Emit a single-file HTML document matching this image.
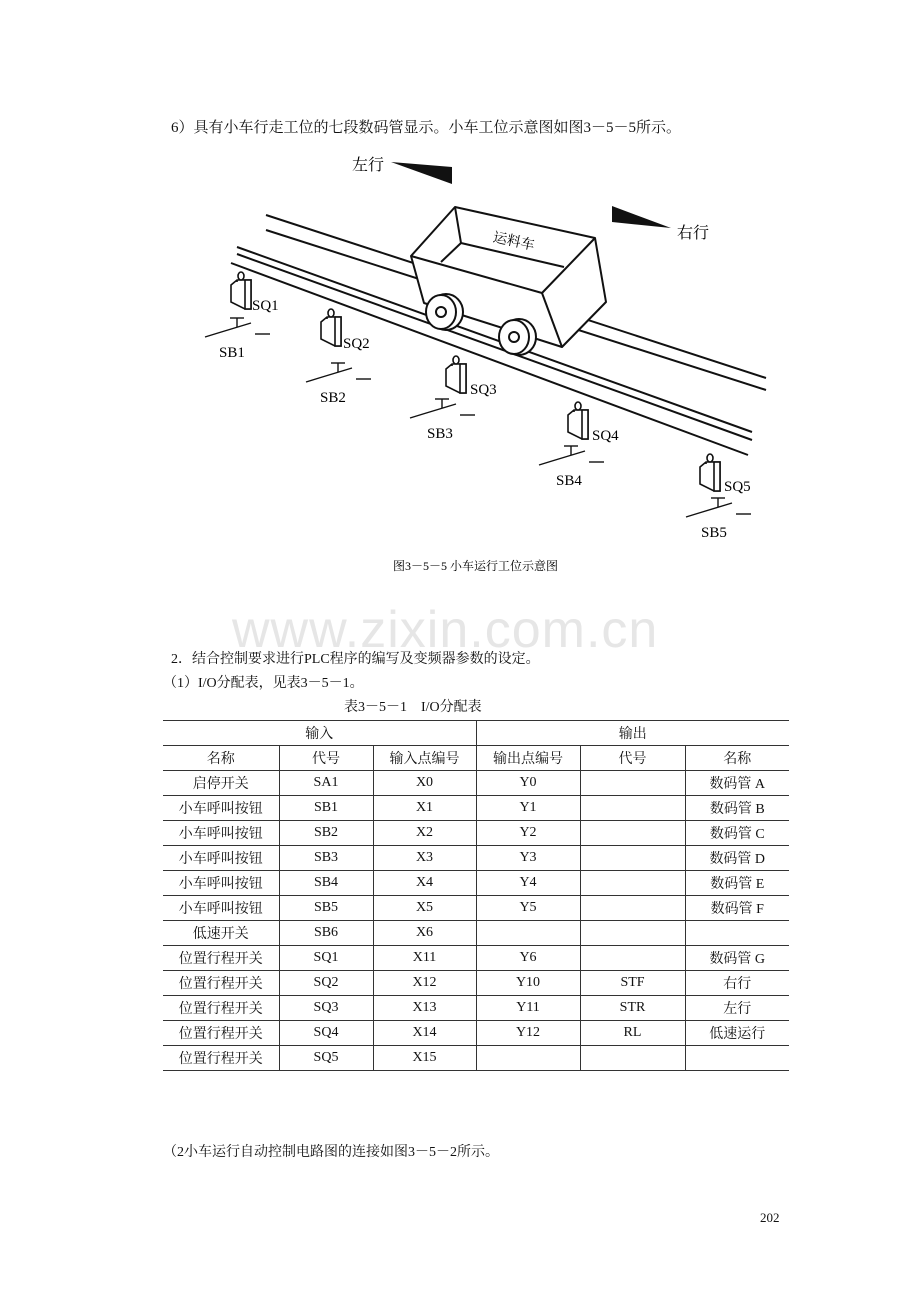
<!DOCTYPE html>
<html><head><meta charset="utf-8"><style>
body{margin:0;background:#fff;}
#p{position:relative;width:920px;height:1302px;overflow:hidden;font-family:"Liberation Serif","Noto Serif CJK SC",serif;color:#111;}
.t{position:absolute;white-space:nowrap;font-size:15px;line-height:18px;}
table{position:absolute;left:163px;top:720px;border-collapse:collapse;font-size:14px;}
td{height:24px;padding:0;text-align:center;border-top:1px solid #333;border-bottom:1px solid #333;border-left:1px solid #333;}
td:first-child{border-left:none;}
</style></head><body><div id="p">
<div class="t" style="left:171px;top:119px;">6）具有小车行走工位的七段数码管显示。小车工位示意图如图3－5－5所示。</div>
<svg width="920" height="600" style="position:absolute;left:0;top:0" font-family="Liberation Serif, Noto Serif CJK SC, serif">
<g stroke="#111" stroke-width="2" fill="none">
<line x1="266" y1="215" x2="766" y2="378"/>
<line x1="266" y1="230" x2="766" y2="390"/>
<line x1="237" y1="247" x2="752" y2="432"/>
<line x1="237" y1="254" x2="752" y2="440"/>
<line x1="231" y1="263" x2="748" y2="455"/>
</g>
<g stroke="#111" stroke-width="2" fill="#fff" stroke-linejoin="round">
<polygon points="411,256 455,207 595,238 606,302 562,347 424,303"/>
<polyline points="411,256 542,293 595,238" fill="none"/>
<line x1="542" y1="293" x2="562" y2="347"/>
<polyline points="455,207 461,243 564,267" fill="none"/>
<line x1="461" y1="243" x2="441" y2="262"/>
<ellipse cx="446" cy="312" rx="17" ry="18"/><ellipse cx="441" cy="312" rx="15" ry="17"/><circle cx="441" cy="312" r="5"/>
<ellipse cx="519" cy="337" rx="17" ry="18"/><ellipse cx="514" cy="337" rx="15" ry="17"/><circle cx="514" cy="337" r="5"/>
</g>
<text x="493" y="245" font-size="14" transform="rotate(12 510 240)">运料车</text>
<polygon points="391,162 452,167 452,184" fill="#111"/>
<text x="352" y="170" font-size="16">左行</text>
<polygon points="612,206 612,222 671,228" fill="#111"/>
<text x="677" y="238" font-size="16">右行</text>
<defs>
<g id="sq" stroke="#111" stroke-width="1.6" fill="#fff"><polygon points="0,5 6,0 20,0 20,29 14,29 0,22"/><line x1="6" y1="0" x2="6" y2="2" /><rect x="14" y="0" width="6" height="29"/><ellipse cx="10" cy="-4" rx="3" ry="4"/></g>
<g id="sb" stroke="#111" stroke-width="1.4" fill="none"><polyline points="0,14 13,10 46,0"/><line x1="25" y1="-5" x2="39" y2="-5"/><line x1="32" y1="-5" x2="32" y2="4"/><line x1="50" y1="11" x2="65" y2="11"/></g>
</defs>
<g font-size="15">
<use href="#sq" x="231" y="280"/><text x="252" y="310">SQ1</text>
<use href="#sb" x="205" y="323"/><text x="219" y="357">SB1</text>
<use href="#sq" x="321" y="317"/><text x="343" y="348">SQ2</text>
<use href="#sb" x="306" y="368"/><text x="320" y="402">SB2</text>
<use href="#sq" x="446" y="364"/><text x="470" y="394">SQ3</text>
<use href="#sb" x="410" y="404"/><text x="427" y="438">SB3</text>
<use href="#sq" x="568" y="410"/><text x="592" y="440">SQ4</text>
<use href="#sb" x="539" y="451"/><text x="556" y="485">SB4</text>
<use href="#sq" x="700" y="462"/><text x="724" y="491">SQ5</text>
<use href="#sb" x="686" y="503"/><text x="701" y="537">SB5</text>
</g>
<text x="393" y="570" font-size="12">图3－5－5 小车运行工位示意图</text>
</svg>
<div class="t" style="left:232px;top:600px;font-family:'Liberation Sans',sans-serif;font-size:52px;line-height:60px;color:#e6e6e6;letter-spacing:1px;">www.zixin.com.cn</div>
<div class="t" style="left:171px;top:651px;font-size:14px;">2．结合控制要求进行PLC程序的编写及变频器参数的设定。</div>
<div class="t" style="left:163px;top:675px;font-size:14px;">（1）I/O分配表，见表3－5－1。</div>
<div class="t" style="left:344px;top:699px;font-size:14px;">表3－5－1&nbsp;&nbsp;&nbsp;&nbsp;I/O分配表</div>
<table>
<colgroup><col style="width:116px"><col style="width:94px"><col style="width:103px"><col style="width:104px"><col style="width:105px"><col style="width:104px"></colgroup>
<tr><td colspan="3">输入</td><td colspan="3">输出</td></tr>
<tr><td>名称</td><td>代号</td><td>输入点编号</td><td>输出点编号</td><td>代号</td><td>名称</td></tr>
<tr><td>启停开关</td><td>SA1</td><td>X0</td><td>Y0</td><td></td><td>数码管 A</td></tr>
<tr><td>小车呼叫按钮</td><td>SB1</td><td>X1</td><td>Y1</td><td></td><td>数码管 B</td></tr>
<tr><td>小车呼叫按钮</td><td>SB2</td><td>X2</td><td>Y2</td><td></td><td>数码管 C</td></tr>
<tr><td>小车呼叫按钮</td><td>SB3</td><td>X3</td><td>Y3</td><td></td><td>数码管 D</td></tr>
<tr><td>小车呼叫按钮</td><td>SB4</td><td>X4</td><td>Y4</td><td></td><td>数码管 E</td></tr>
<tr><td>小车呼叫按钮</td><td>SB5</td><td>X5</td><td>Y5</td><td></td><td>数码管 F</td></tr>
<tr><td>低速开关</td><td>SB6</td><td>X6</td><td></td><td></td><td></td></tr>
<tr><td>位置行程开关</td><td>SQ1</td><td>X11</td><td>Y6</td><td></td><td>数码管 G</td></tr>
<tr><td>位置行程开关</td><td>SQ2</td><td>X12</td><td>Y10</td><td>STF</td><td>右行</td></tr>
<tr><td>位置行程开关</td><td>SQ3</td><td>X13</td><td>Y11</td><td>STR</td><td>左行</td></tr>
<tr><td>位置行程开关</td><td>SQ4</td><td>X14</td><td>Y12</td><td>RL</td><td>低速运行</td></tr>
<tr><td>位置行程开关</td><td>SQ5</td><td>X15</td><td></td><td></td><td></td></tr>
</table>
<div class="t" style="left:163px;top:1144px;font-size:14px;">（2小车运行自动控制电路图的连接如图3－5－2所示。</div>
<div class="t" style="left:760px;top:1209px;font-size:13px;">202</div>
</div></body></html>
